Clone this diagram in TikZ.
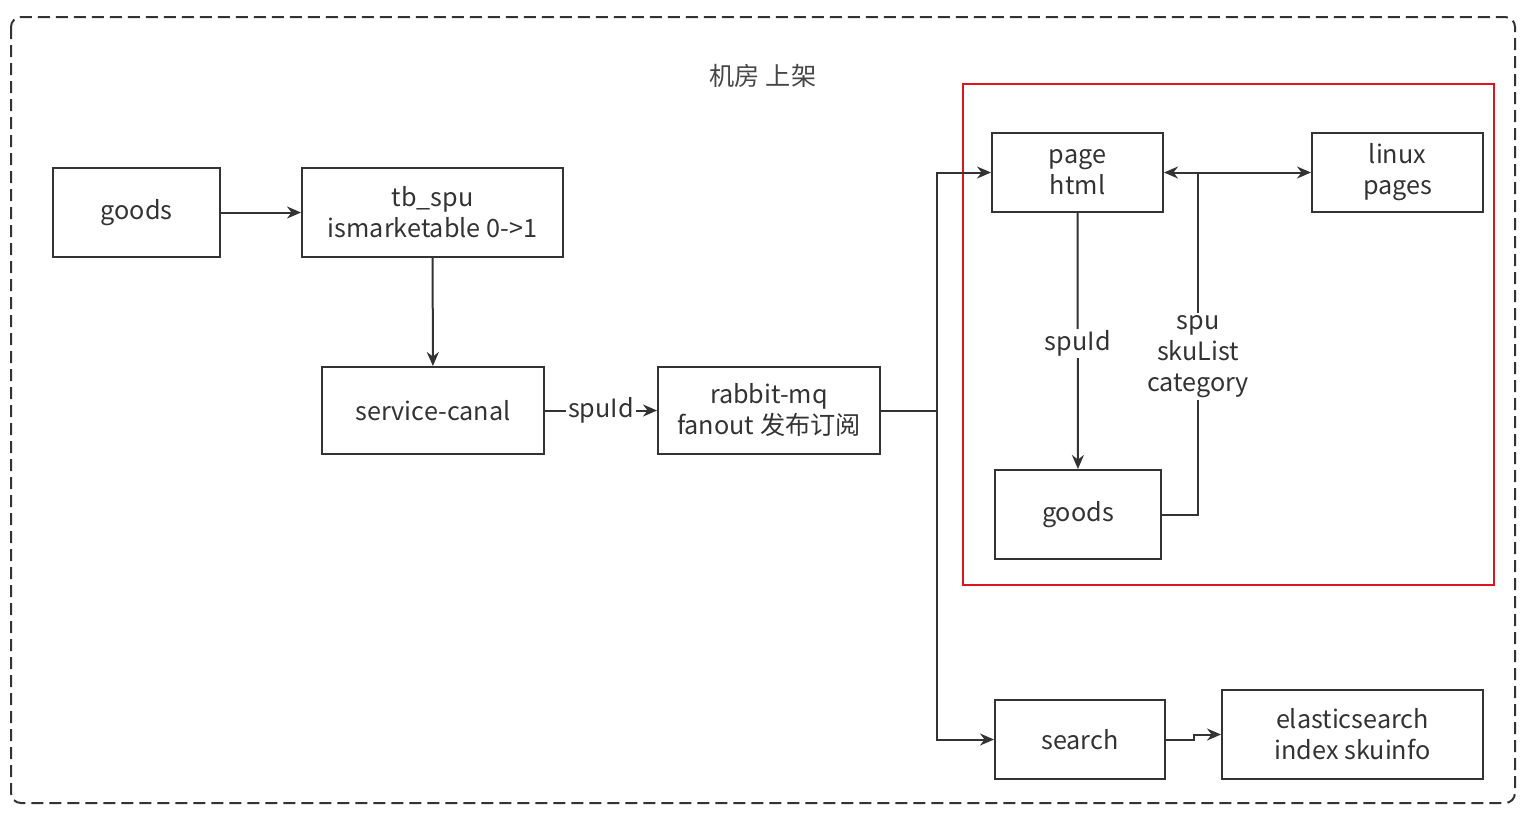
\documentclass[tikz,border=0pt]{standalone}
\usepackage{fontspec}
\setmainfont{Noto Sans CJK SC}
\usetikzlibrary{arrows.meta,calc}
\definecolor{ink}{HTML}{333333}
\definecolor{frame}{HTML}{E0141E}

\begin{document}
\begin{tikzpicture}[x=0.5pt, y=-0.5pt, line width=1pt, draw=ink, text=ink,
    font=\fontsize{12.6}{15.5}\selectfont,
    box/.style={rectangle, draw=ink, line width=1pt, align=center, inner sep=0pt},
    lbl/.style={fill=white, inner sep=1pt, align=center},
    >={Stealth[length=7pt,width=6pt]}]
            \useasboundingbox (0,0) rectangle (1529,816);
            % Frames
            \draw[ink, dashed, dash pattern=on 6pt off 3pt, rounded corners=5pt] (11,17) rectangle (1515,803);
            \draw[frame, line width=1pt] (963,84) rectangle (1494,585);
            \node[text=ink!90] (title) at (763,76) {机房 上架};
            % Nodes
            \node[box, minimum width=83.5pt, minimum height=44.5pt] (goodsL) at (136.5,212.5) {goods};
            \node[box, minimum width=130.5pt, minimum height=44.5pt] (spu) at (432.5,212.5) {tb\_spu\\ismarketable 0->1};
            \node[box, minimum width=111pt, minimum height=43.5pt] (canal) at (433,410.5) {service-canal};
            \node[box, minimum width=111pt, minimum height=43.5pt] (mq) at (769,410.5) {rabbit-mq\\fanout 发布订阅};
            \node[box, minimum width=85.5pt, minimum height=39.5pt] (page) at (1077.5,172.5) {page\\html};
            \node[box, minimum width=85.5pt, minimum height=39.5pt] (linux) at (1397.5,172.5) {linux\\pages};
            \node[box, minimum width=83pt, minimum height=44.5pt] (goodsR) at (1078,514.5) {goods};
            \node[box, minimum width=85pt, minimum height=39.5pt] (search) at (1080,739.5) {search};
            \node[box, minimum width=130.5pt, minimum height=44.5pt] (es) at (1352.5,734.5) {elasticsearch\\index skuinfo};
            \coordinate (split) at (937,410.5);
            \coordinate (join) at (1198,172.5);
            % Edges
            \draw[->] (goodsL) -- (spu);
            \draw[->] (spu) -- (canal);
            \draw[->] (canal) -- node[lbl] {spuId} (mq);
            \draw (mq.east) -- (split);
            \draw[->] (split) |- (page.west);
            \draw[->] (split) |- (search.west);
            \draw[->] (page) -- node[lbl, pos=0.51] {spuId} (goodsR);
            \draw (goodsR.east) -| node[lbl, pos=0.74, yshift=-3pt] {spu\\skuList\\category} (join);
            \draw[->] (join) -- (page.east);
            \draw[->] (join) -- (linux.west);
            \draw[->] (search.east) -- ++(28,0) |- (es.west);
        \end{tikzpicture}
\end{document}
